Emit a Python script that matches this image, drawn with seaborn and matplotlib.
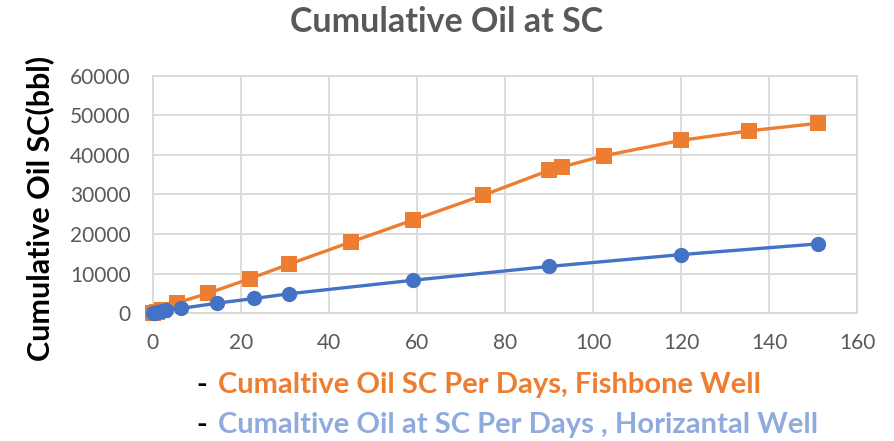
import matplotlib
matplotlib.use("Agg")
import matplotlib.pyplot as plt
import seaborn as sns
import pandas as pd

fish_days = [0, 1, 2, 5.5, 12.5, 22, 31, 45, 59, 75, 90, 93, 102.5, 120, 135.5, 151]
fish_oil = [0, 400, 800, 2600, 5000, 8700, 12400, 18000, 23500, 29800, 36100, 37000, 39800, 43700, 46100, 48000]
horiz_days = [0, 0.5, 1, 2, 3, 6.5, 14.5, 23, 31, 59, 90, 120, 151]
horiz_oil = [0, 150, 300, 500, 750, 1200, 2500, 3700, 4900, 8300, 11800, 14800, 17500]

title = "Cumulative Oil at SC"
ylabel = "Cumulative Oil SC(bbl)"
legend1 = "Cumaltive Oil SC Per Days, Fishbone Well"
legend2 = "Cumaltive Oil at SC Per Days , Horizantal Well"
xticks = [0, 20, 40, 60, 80, 100, 120, 140, 160]
yticks = [0, 10000, 20000, 30000, 40000, 50000, 60000]

ORANGE = "#ED7D31"
BLUE = "#4472C4"
LBLUE = "#8FAADC"
GRID = "#D9D9D9"
TXT = "#595959"

sns.set_theme(style="white")
plt.rcParams["font.family"] = ["Lato", "DejaVu Sans"]

fig = plt.figure(figsize=(8.94, 4.41), dpi=100)
ax = fig.add_axes([0.171, 0.290, 0.788, 0.538])

df_f = pd.DataFrame({"days": fish_days, "oil": fish_oil})
df_h = pd.DataFrame({"days": horiz_days, "oil": horiz_oil})

sns.lineplot(data=df_f, x="days", y="oil", ax=ax, color=ORANGE, linewidth=2.4,
             marker="s", markersize=12, markeredgewidth=0, sort=False, clip_on=False, zorder=3)
sns.lineplot(data=df_h, x="days", y="oil", ax=ax, color=BLUE, linewidth=2.4,
             marker="o", markersize=11, markeredgewidth=0, sort=False, clip_on=False, zorder=4)

ax.set_xlim(0, 160)
ax.set_ylim(0, 60000)
ax.set_xticks(xticks)
ax.set_yticks(yticks)
ax.set_xticklabels([str(v) for v in xticks])
ax.set_yticklabels([str(v) for v in yticks])
ax.tick_params(axis="y", labelsize=15, colors=TXT, length=0, pad=16)
ax.tick_params(axis="x", labelsize=15, colors=TXT, length=0, pad=14)
ax.grid(True, color=GRID, linewidth=1.3)
ax.set_axisbelow(True)
for s in ax.spines.values():
    s.set_color(GRID)
    s.set_linewidth(1.3)
ax.set_xlabel("")
ax.set_ylabel("")

fig.text(40 / 894, 1 - 208 / 441, ylabel, ha="center", va="center", rotation=90,
         fontsize=22, fontweight="bold", color="black")

fig.text(0.5, 1 - 22 / 441, title, ha="center", va="center", fontsize=24.5, fontweight="bold", color=TXT)

fig.text(196 / 894, 1 - 385 / 441, "-", ha="left", va="center", fontsize=21, fontweight="bold", color="black")
fig.text(218 / 894, 1 - 385 / 441, legend1, ha="left", va="center", fontsize=21, fontweight="bold", color=ORANGE)
fig.text(196 / 894, 1 - 425 / 441, "-", ha="left", va="center", fontsize=21, fontweight="bold", color="black")
fig.text(218 / 894, 1 - 425 / 441, legend2, ha="left", va="center", fontsize=21, fontweight="bold", color=LBLUE)

fig.savefig("out.png", dpi=100)
